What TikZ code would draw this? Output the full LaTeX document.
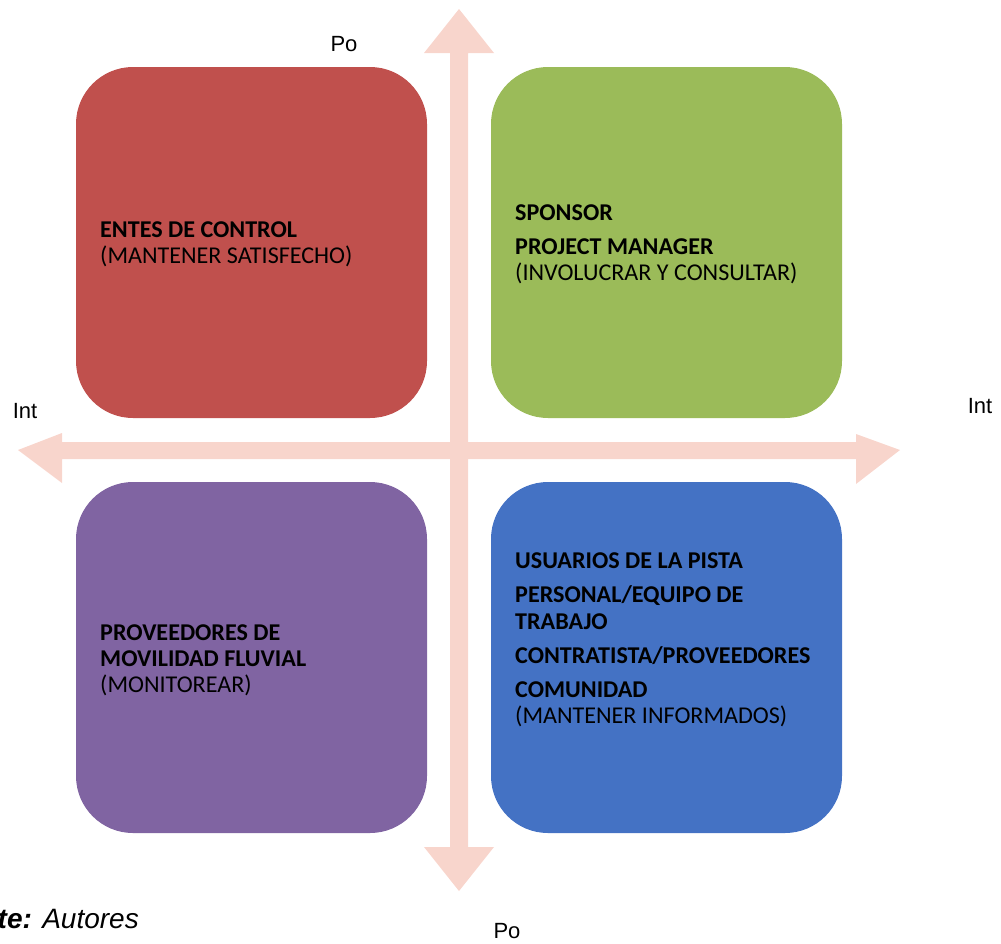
\documentclass[tikz,border=0pt]{standalone}
\usepackage{fontspec}
\setmainfont{Carlito}
\newfontfamily\arialf{Liberation Sans}
\definecolor{arrowc}{HTML}{F8D5CC}
\definecolor{redq}{HTML}{C0504D}
\definecolor{greenq}{HTML}{9BBB59}
\definecolor{purpleq}{HTML}{8064A2}
\definecolor{blueq}{HTML}{4472C4}
\tikzset{
  quad/.style={draw=none, minimum width=351pt, minimum height=351pt, rounded corners=57pt, inner sep=0pt},
  bt/.style={anchor=base west, inner sep=0pt, font=\fontsize{24.1}{27}\selectfont\bfseries, text=black},
  nt/.style={anchor=base west, inner sep=0pt, font=\fontsize{24.1}{27}\selectfont, text=black},
  axlbl/.style={anchor=base, inner sep=0pt, font=\arialf\fontsize{22}{26}\selectfont}
}
\begin{document}
\begin{tikzpicture}[x=1pt,y=-1pt]
\useasboundingbox (0,0) rectangle (1001,943);
% quadrants
\node[quad, fill=redq] (red) at (251.5,242.5) {};
\node[quad, fill=greenq] (green) at (666.5,242.5) {};
\node[quad, fill=purpleq] (purple) at (251.5,657.5) {};
\node[quad, fill=blueq] (blue) at (666.5,657.5) {};
% axes (double arrows)
\fill[arrowc] (459,9) -- (494,53) -- (468,53) -- (468,847) -- (494,847) -- (459,891)
  -- (424,847) -- (450,847) -- (450,53) -- (424,53) -- cycle;
\fill[arrowc] (18,450) -- (62,433) -- (62,442) -- (856,442) -- (856,434) -- (900,450)
  -- (856,484) -- (856,459) -- (62,459) -- (62,483) -- cycle;
% texts in red
\node[bt] (r1) at (100,237) {ENTES DE CONTROL};
\node[nt] (r2) at (100,263) {(MANTENER SATISFECHO)};
% green
\node[bt] (g1) at (515,220) {SPONSOR};
\node[bt] (g2) at (515,254) {PROJECT MANAGER};
\node[nt] (g3) at (515,280) {(INVOLUCRAR Y CONSULTAR)};
% purple
\node[bt] (p1) at (100,640) {PROVEEDORES DE};
\node[bt] (p2) at (100,666) {MOVILIDAD FLUVIAL};
\node[nt] (p3) at (100,692) {(MONITOREAR)};
% blue
\node[bt] (b1) at (515,568) {USUARIOS DE LA PISTA};
\node[bt] (b2) at (515,602) {PERSONAL/EQUIPO DE};
\node[bt] (b3) at (515,629) {TRABAJO};
\node[bt] (b4) at (515,663) {CONTRATISTA/PROVEEDORES};
\node[bt] (b5) at (515,697) {COMUNIDAD};
\node[nt] (b6) at (515,723) {(MANTENER INFORMADOS)};
% axis labels
\node[axlbl] (potop) at (344,51) {Po};
\node[axlbl] (pobot) at (507,938) {Po};
\node[axlbl] (intl) at (25,418) {Int};
\node[axlbl] (intr) at (980,413) {Int};
% footer
\node[anchor=base east, inner sep=0pt, font=\arialf\fontsize{28}{32}\selectfont] (src) at (139,928) {\textbf{\textit{te:}} \textit{Autores}};
\end{tikzpicture}
\end{document}
